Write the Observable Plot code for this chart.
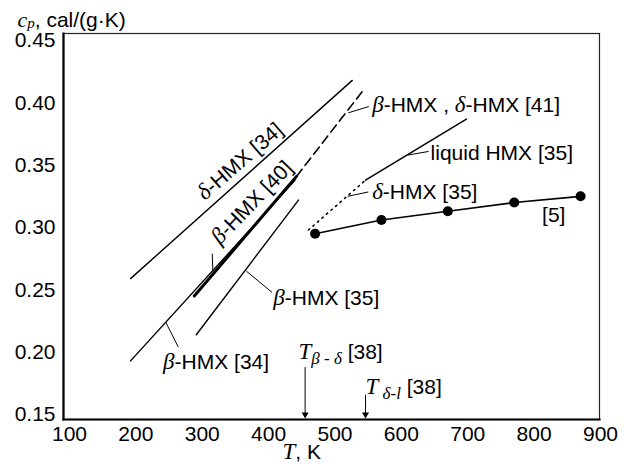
<!DOCTYPE html>
<html>
<head>
<meta charset="utf-8">
<script src="https://cdn.jsdelivr.net/npm/d3@7"></script>
<script src="https://cdn.jsdelivr.net/npm/@observablehq/plot@0.6"></script>
<style>
  html, body { margin: 0; padding: 0; background: #fff; }
  svg text { white-space: pre; }
</style>
</head>
<body>
<div id="chart"></div>
<script>
// ---- data ----
const xTicks = [100, 200, 300, 400, 500, 600, 700, 800, 900];
const yTicks = [0.15, 0.20, 0.25, 0.30, 0.35, 0.40, 0.45];

const delta34T = [192, 526],  delta34Cp = [0.259, 0.418];   // δ-HMX [34]
const beta34T  = [192, 440],  beta34Cp  = [0.193, 0.338];   // β-HMX [34]
const beta40T  = [288, 442],  beta40Cp  = [0.245, 0.341];   // β-HMX [40]
const beta35T  = [291, 445],  beta35Cp  = [0.214, 0.322];   // β-HMX [35]
const hmx41T   = [442, 541],  hmx41Cp   = [0.341, 0.409];   // β-HMX, δ-HMX [41]
const delta35T = [460, 546],  delta35Cp = [0.298, 0.338];   // δ-HMX [35]
const liquid35T = [546, 698], liquid35Cp = [0.338, 0.387];  // liquid HMX [35]
const ref5T  = [470, 570, 670, 770, 870];                   // [5]
const ref5Cp = [0.295, 0.306, 0.313, 0.320, 0.325];

// transition arrows
const arrowT   = [455, 546];
const arrowTop = [0.188, 0.166];
const arrowBottom = [0.15, 0.15];

// labels ({..} = italic serif, _{..} = subscript)
const labelText = ["{β}-HMX [34]", "{β}-HMX [35]", "{β}-HMX , {δ}-HMX [41]", "liquid HMX [35]",
                   "{δ}-HMX [35]", "[5]", "{T}_{β - δ} [38]", "{T}_{ δ-l} [38]"];
const labelT  = [241, 407, 556, 644, 556, 812, 445, 546];
const labelCp = [0.192, 0.243, 0.398, 0.3595, 0.328, 0.3095, 0.200, 0.172];

const rotText = ["{δ}-HMX [34]", "{β}-HMX [40]"];
const rotT    = [357, 375];
const rotCp   = [0.353, 0.320];
const rotAngle = [-41, -46];

// leader lines
const leadT1  = [245, 316, 366.5, 520, 609, 519];
const leadCp1 = [0.224, 0.265, 0.265, 0.392, 0.358, 0.325];
const leadT2  = [264, 315, 405, 551, 641, 550];
const leadCp2 = [0.204, 0.279, 0.248, 0.397, 0.361, 0.3285];

// ---- build tables ----
const series = (T, cp) => T.map((t, i) => ({T: t, cp: cp[i]}));
const labels = labelText.map((s, i) => ({s, T: labelT[i], cp: labelCp[i]}));
const rots = rotText.map((s, i) => ({s, T: rotT[i], cp: rotCp[i], a: rotAngle[i]}));
const leaders = leadT1.map((t, i) => ({x1: t, y1: leadCp1[i], x2: leadT2[i], y2: leadCp2[i]}));
const arrows = arrowT.map((t, i) => ({T: t, top: arrowTop[i], bottom: arrowBottom[i]}));

const SANS = "'Liberation Sans', Arial, sans-serif";
const SERIF = "'Liberation Serif', 'Times New Roman', serif";
const FS = 21;

const chart = Plot.plot({
  width: 624,
  height: 470,
  marginLeft: 63,
  marginRight: 25,
  marginTop: 33,
  marginBottom: 51,
  style: {fontFamily: SANS, fontSize: FS + "px", background: "#fff", color: "#000"},
  x: {domain: [100, 900], range: [69, 600]},
  y: {domain: [0.15, 0.45], range: [414, 40]},
  marks: [
    Plot.frame({stroke: "#222", strokeWidth: 1.2}),
    Plot.frame({anchor: "left", stroke: "#000", strokeWidth: 2.2}),
    Plot.frame({anchor: "bottom", stroke: "#000", strokeWidth: 2.2}),
    Plot.axisX({ticks: xTicks, tickSize: 0, tickPadding: 7, label: null, fontSize: FS, tickFormat: d3.format("d")}),
    Plot.axisY({ticks: yTicks, tickSize: 0, tickPadding: 8, label: null, fontSize: FS, tickFormat: d3.format(".2f")}),
    Plot.line(series(delta34T, delta34Cp), {x: "T", y: "cp", stroke: "#000", strokeWidth: 1.4}),
    Plot.line(series(beta34T, beta34Cp), {x: "T", y: "cp", stroke: "#000", strokeWidth: 1.4}),
    Plot.line(series(beta40T, beta40Cp), {x: "T", y: "cp", stroke: "#000", strokeWidth: 3}),
    Plot.line(series(beta35T, beta35Cp), {x: "T", y: "cp", stroke: "#000", strokeWidth: 1.4}),
    Plot.line(series(hmx41T, hmx41Cp), {x: "T", y: "cp", stroke: "#000", strokeWidth: 1.6, strokeDasharray: "9,5"}),
    Plot.line(series(delta35T, delta35Cp), {x: "T", y: "cp", stroke: "#000", strokeWidth: 1.6, strokeDasharray: "1.5,4.5"}),
    Plot.line(series(liquid35T, liquid35Cp), {x: "T", y: "cp", stroke: "#000", strokeWidth: 1.5}),
    Plot.line(series(ref5T, ref5Cp), {x: "T", y: "cp", stroke: "#000", strokeWidth: 1.6}),
    Plot.dot(series(ref5T, ref5Cp), {x: "T", y: "cp", r: 5, fill: "#000", stroke: "none"}),
    Plot.link(leaders, {x1: "x1", y1: "y1", x2: "x2", y2: "y2", stroke: "#000", strokeWidth: 1}),
    Plot.link(arrows, {x1: "T", x2: "T", y1: "top", y2: "bottom", stroke: "#000", strokeWidth: 1}),
    Plot.dot(arrows, {x: "T", y: "bottom", symbol: "triangle", r: 2.6, rotate: 180, fill: "#000", stroke: "none"}),
    Plot.text(labels, {x: "T", y: "cp", text: "s", textAnchor: "start", fontSize: FS, fill: "#000"}),
    Plot.text(rots, {x: "T", y: "cp", text: "s", rotate: "a", textAnchor: "middle", fontSize: FS, fill: "#000"}),
    Plot.text(["{c}_{p}, cal/(g·K)"], {frameAnchor: "top-left", dx: -46, dy: -21.7, textAnchor: "start", fontSize: FS, fill: "#000"}),
    Plot.text(["{T}, K"], {frameAnchor: "bottom", dx: -49, dy: 39, textAnchor: "start", fontSize: FS, fill: "#000"})
  ]
});

// rich text: {..} italic serif, _{..} italic serif subscript
const NS = "http://www.w3.org/2000/svg";
chart.querySelectorAll("text").forEach(el => {
  const s = el.textContent;
  if (!/[{]/.test(s)) return;
  while (el.firstChild) el.removeChild(el.firstChild);
  const re = /_\{([^}]*)\}|\{([^}]*)\}|([^{_]+)/g;
  const isY = s.startsWith("{c}");
  let m, shift = 0;
  while ((m = re.exec(s))) {
    const t = document.createElementNS(NS, "tspan");
    if (m[1] != null) {
      const drop = isY ? 1 : 5;
      t.textContent = m[1];
      t.setAttribute("font-family", SERIF);
      t.setAttribute("font-style", "italic");
      t.setAttribute("font-size", isY ? "15" : "17");
      t.setAttribute("dy", String(drop));
      shift = drop;
    } else {
      if (shift) { t.setAttribute("dy", String(-shift)); shift = 0; }
      if (m[2] != null) {
        t.textContent = m[2];
        t.setAttribute("font-family", SERIF);
        t.setAttribute("font-style", "italic");
        t.setAttribute("font-size", isY ? "22" : "23");
      } else {
        t.textContent = m[3];
      }
    }
    el.appendChild(t);
  }
});

document.getElementById("chart").appendChild(chart);
</script>
</body>
</html>
